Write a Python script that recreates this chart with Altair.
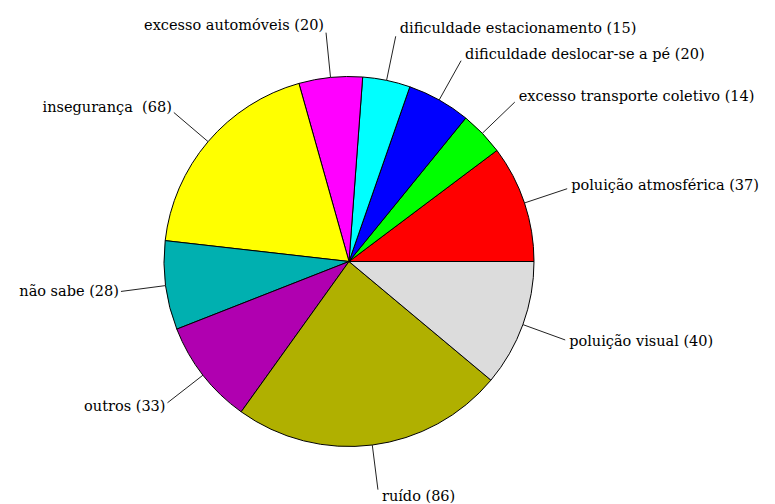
import math
import altair as alt
import pandas as pd

labels = [
    "poluição atmosférica (37)",
    "excesso transporte coletivo (14)",
    "dificuldade deslocar-se a pé (20)",
    "dificuldade estacionamento (15)",
    "excesso automóveis (20)",
    "insegurança\u00a0 (68)",
    "não sabe (28)",
    "outros (33)",
    "ruído (86)",
    "poluição visual (40)",
]
values = [37, 14, 20, 15, 20, 68, 28, 33, 86, 40]
colors = ["#FF0000", "#00FF00", "#0000FF", "#00FFFF", "#FF00FF",
          "#FFFF00", "#00B0B0", "#B000B0", "#B0B000", "#DCDCDC"]

df = pd.DataFrame({"label": labels, "v": values, "i": list(range(len(values)))})

CX, CY, R, RL = 341, 253.5, 185, 230
W, H = 759, 496

base = alt.Chart(df)

pie = base.mark_arc(outerRadius=R, stroke="black", strokeWidth=1).encode(
    theta=alt.Theta("v:Q", stack=True,
                    scale=alt.Scale(range=[2.5 * math.pi, 0.5 * math.pi])),
    order=alt.Order("i:Q"),
    color=alt.Color("label:N", scale=alt.Scale(domain=labels, range=colors), legend=None),
    x=alt.value(CX),
    y=alt.value(CY),
)

geo = base.transform_joinaggregate(total="sum(v)").transform_window(
    cum="sum(v)", sort=[alt.SortField("i")], frame=[None, 0]
).transform_calculate(
    a="(datum.cum - datum.v / 2) / datum.total * 2 * PI"
).transform_calculate(
    c="cos(datum.a)", s="sin(datum.a)"
).transform_calculate(
    ex=f"{CX} + {R} * datum.c",
    ey=f"{CY} - {R} * datum.s",
    lx=f"{CX} + {RL} * datum.c",
    ly=f"{CY} - {RL} * datum.s",
).transform_calculate(
    tx="datum.lx + (datum.c > 0 ? 4 : -2)",
    ty="datum.ly - 7 * datum.s",
)

lines = geo.mark_rule(color="#222222", strokeWidth=1).encode(
    x=alt.X("ex:Q", scale=None), y=alt.Y("ey:Q", scale=None),
    x2="lx:Q", y2="ly:Q",
)

font = dict(font="DejaVu Serif", fontSize=14.5, color="black", baseline="middle")
txt_r = geo.transform_filter("datum.c > 0").mark_text(align="left", **font).encode(
    x=alt.X("tx:Q", scale=None), y=alt.Y("ty:Q", scale=None), text="label:N")
txt_l = geo.transform_filter("datum.c <= 0").mark_text(align="right", **font).encode(
    x=alt.X("tx:Q", scale=None), y=alt.Y("ty:Q", scale=None), text="label:N")

chart = alt.layer(pie, lines, txt_r, txt_l).properties(
    width=W, height=H, padding=0, autosize=alt.AutoSizeParams(type="none")
).configure_view(stroke=None)

chart.save("out.html", embed_options={"renderer": "svg", "actions": False})
